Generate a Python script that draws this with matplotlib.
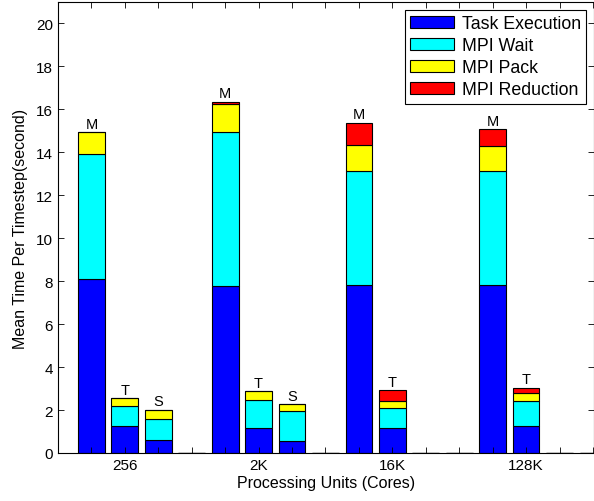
import matplotlib

matplotlib.use("Agg")
import matplotlib.pyplot as plt
import numpy as np

plt.rcParams["font.family"] = ["Liberation Sans", "DejaVu Sans"]

# core counts and run variants (M, T, S) per group
groups = ["256", "2K", "16K", "128K"]
variants = ["M", "T", "S"]

# seconds per timestep, one row per group, one entry per variant
task_exec = [[8.10, 1.24, 0.59], [7.79, 1.18, 0.56], [7.82, 1.18, 0.0], [7.80, 1.26, 0.0]]
mpi_wait = [[5.84, 0.94, 0.98], [7.18, 1.28, 1.41], [5.31, 0.93, 0.0], [5.33, 1.15, 0.0]]
mpi_pack = [[1.01, 0.37, 0.45], [1.30, 0.42, 0.30], [1.23, 0.33, 0.0], [1.18, 0.37, 0.0]]
mpi_reduce = [[0.0, 0.0, 0.0], [0.08, 0.0, 0.0], [1.02, 0.48, 0.0], [0.78, 0.26, 0.0]]

series = [
    ("Task Execution", task_exec, "#0000ff"),
    ("MPI Wait", mpi_wait, "#00ffff"),
    ("MPI Pack", mpi_pack, "#ffff00"),
    ("MPI Reduction", mpi_reduce, "#ff0000"),
]

# each group takes 4 slots: M, T, S and an empty spacer slot
slots = len(variants) + 1
n = len(groups) * slots
x = np.arange(1, n + 1)


def flat(rows):
    out = []
    for row in rows:
        out.extend(row + [0.0])
    return np.array(out)


fig = plt.figure(figsize=(5.94, 5.02), dpi=100)
ax = fig.add_axes([58 / 594, 48 / 502, 1 - 58 / 594, 451 / 502])

bottom = np.zeros(n)
for name, rows, color in series:
    h = flat(rows)
    ax.bar(x, h, width=0.8, bottom=bottom, color=color, edgecolor="black",
           linewidth=0.8, label=name)
    bottom += h

# variant letters above each non-empty bar
for gi in range(len(groups)):
    for vi, v in enumerate(variants):
        i = gi * slots + vi
        if bottom[i] > 0:
            ax.annotate(v, (x[i], bottom[i]), xytext=(0, 1), textcoords="offset points",
                        ha="center", va="bottom", fontsize=10.5)

ax.set_xlim(0, n + 0.03)
ax.set_ylim(0, 21)
ax.set_yticks(np.arange(0, 21, 2))
ax.set_xticks(x)
labels = [""] * n
for gi, g in enumerate(groups):
    labels[gi * slots + 1] = g
ax.set_xticklabels(labels)
ax.tick_params(direction="in", top=True, right=True, labelsize=11, length=4, width=0.6)
for s in ax.spines.values():
    s.set_linewidth(0.8)

ax.set_xlabel("Processing Units (Cores)", fontsize=11.5, labelpad=2)
ax.set_ylabel("Mean Time Per Timestep(second)", fontsize=11.5, labelpad=6)

leg = ax.legend(loc="upper right", fontsize=12.8, fancybox=False, framealpha=1,
                edgecolor="black", handlelength=2.5, handleheight=0.7,
                borderaxespad=0.45, labelspacing=0.28, handletextpad=0.4,
                borderpad=0.3)
leg.get_frame().set_linewidth(0.8)

fig.savefig("out.png", dpi=100)
